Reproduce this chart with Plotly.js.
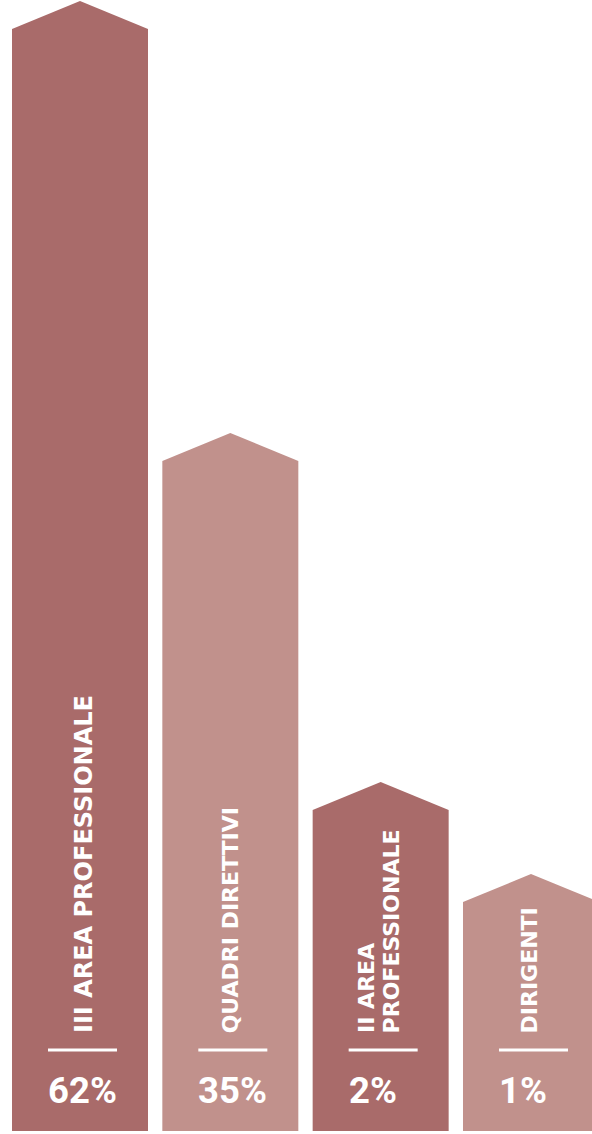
<!DOCTYPE html>
<html>
<head>
<meta charset="utf-8">
<script src="https://cdn.plot.ly/plotly-3.0.1.min.js"></script>
<style>html,body{margin:0;padding:0;background:#fff;}#chart{width:592px;height:1134px;}</style>
</head>
<body>
<div id="chart"></div>
<script>
const categories = ['III AREA PROFESSIONALE', 'QUADRI DIRETTIVI', 'II AREA<br>PROFESSIONALE', 'DIRIGENTI'];
const percentages = [62, 35, 2, 1];
const barHeights = [1102, 670, 321, 229]; // visual bar heights as drawn in the infographic
const barColors = ['#A96B6A', '#C1918C', '#A96B6A', '#C1918C'];

// layout constants (pixel-ish units)
const PX = 150.33;          // pixels per category step
const X0 = 80;              // pixel centre of first bar
const HALF = 68 / PX;       // half bar width in category units
const ARROW = 28;           // arrow tip height
const labelSizes = [24, 22, 22, 22];
const labelDx = [4, 0, -2, -1.5];

function px2x(p) { return (p - X0) / PX; }

const traces = categories.map((c, i) => {
  const h = barHeights[i];
  return {
    type: 'scatter', mode: 'lines', fill: 'toself',
    x: [i - HALF, i - HALF, i, i + HALF, i + HALF, i - HALF],
    y: [0, h, h + ARROW, h, 0, 0],
    fillcolor: barColors[i], line: {width: 0, color: barColors[i]},
    hoverinfo: 'skip', showlegend: false
  };
});

const annotations = [];
const shapes = [];
categories.forEach((c, i) => {
  const lines = c.split('<br>');
  const n = lines.length;
  lines.forEach((ln, j) => {
    annotations.push({
      x: i + (labelDx[i] + (j - (n - 1) / 2) * 25.5) / PX, y: 97,
      xref: 'x', yref: 'y', xanchor: 'center', yanchor: 'bottom',
      text: ln, showarrow: false, textangle: -90, borderpad: 0,
      font: {family: 'DejaVu Sans', size: labelSizes[i], color: '#ffffff', weight: 'bold'}
    });
  });
  annotations.push({
    x: i - 33 / PX, y: 41, xref: 'x', yref: 'y', xanchor: 'left', yanchor: 'middle',
    text: percentages[i] + '%', showarrow: false, borderpad: 0,
    font: {family: 'Roboto', size: 36.5, color: '#ffffff', weight: 'bold'}
  });
  shapes.push({
    type: 'line', xref: 'x', yref: 'y',
    x0: i - 32 / PX, x1: i + 37 / PX, y0: 81, y1: 81,
    line: {color: '#ffffff', width: 3}
  });
});

const layout = {
  width: 592, height: 1134,
  margin: {l: 0, r: 0, t: 0, b: 0, pad: 0},
  paper_bgcolor: '#ffffff', plot_bgcolor: '#ffffff',
  xaxis: {range: [px2x(0), px2x(592)], visible: false, fixedrange: true},
  yaxis: {range: [-3, 1131], visible: false, fixedrange: true},
  annotations: annotations, shapes: shapes, showlegend: false
};

Plotly.newPlot('chart', traces, layout, {displayModeBar: false, staticPlot: true});
</script>
</body>
</html>
